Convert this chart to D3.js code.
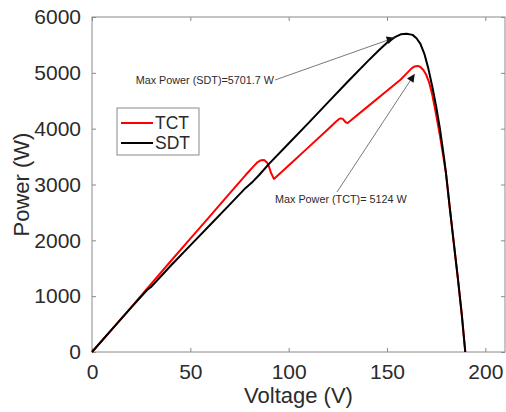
<!DOCTYPE html>
<html>
<head>
<meta charset="utf-8">
<script src="https://cdn.jsdelivr.net/npm/d3@7"></script>
<style>
  body { margin: 0; background: #fff; }
  text { font-family: "Liberation Sans", Arial, sans-serif; }
</style>
</head>
<body>
<svg id="pvChart"></svg>
<script>
// voltage (V), power (W)
var tctCurve = [[0,0],[10,400],[20,805],[28,1135],[40,1625],[50,2030],[60,2435],[70,2840],[78,3165],[82,3320],[84,3395],[86,3435],[87.5,3440],[89,3395],[90,3320],[91,3210],[92.5,3100],
  [100,3340],[110,3665],[120,3990],[124,4125],[125.5,4170],[126.5,4185],[127.5,4175],[129,4115],[130,4100],[140,4390],[150,4680],[157,4880],[160,4990],[162.5,5080],[164,5115],[165.6,5124],
  [167,5105],[168.5,5050],[170,4960],[171.5,4820],[173,4610],[175,4250],[177,3860],[180,3200],[182,2560],[184,1940],[186,1330],[188,680],[189.8,0]];
var sdtCurve = [[0,0],[10,400],[20,800],[28,1110],[30,1165],[40,1545],[50,1910],[60,2275],[70,2640],[78,2935],[82,3060],[85,3170],[90,3370],
  [100,3735],[110,4100],[120,4470],[130,4840],[140,5200],[146,5410],[150,5540],[154,5640],[157,5690],[160,5701.7],[163,5680],[165,5620],
  [167,5520],[169,5340],[171,5080],[173,4760],[175,4400],[177,3980],[179,3480],[180,3200],[182,2560],[184,1940],[186,1330],[188,680],[189.8,0]];

var seriesNames = ["TCT", "SDT"];
var seriesColors = ["#ff0000", "#000000"];
var xTicks = [0, 50, 100, 150, 200];
var yTicks = [0, 1000, 2000, 3000, 4000, 5000, 6000];

var maxSdt = [160, 5701.7], maxTct = [165.6, 5124];
var labelSdt = "Max Power (SDT)=5701.7 W", labelTct = "Max Power (TCT)= 5124 W";

var margin = {top: 17, right: 1, bottom: 60, left: 92},
    width  = 506 - margin.left - margin.right,
    height = 412 - margin.top - margin.bottom;

var x = d3.scaleLinear().domain([0, 210]).range([0, width]);
var y = d3.scaleLinear().domain([0, 6000]).range([height, 0]);

var svg = d3.select("#pvChart")
    .attr("width", 506)
    .attr("height", 412)
  .append("g")
    .attr("transform", "translate(" + margin.left + "," + margin.top + ")");

var axisColor = "#8a8a8a", textColor = "#2b2b2b";

// box + ticks (inward)
svg.append("rect")
  .attr("width", width).attr("height", height)
  .attr("fill", "none").attr("stroke", axisColor).attr("stroke-width", 1);

var fmt = d3.format("d");
var xb = svg.append("g").attr("transform", "translate(0," + height + ")")
  .call(d3.axisBottom(x).tickValues(xTicks).tickFormat(fmt).tickSizeInner(-4).tickSizeOuter(0).tickPadding(12));
var xt = svg.append("g")
  .call(d3.axisTop(x).tickValues(xTicks).tickSizeInner(-4).tickSizeOuter(0).tickFormat(""));
var yl = svg.append("g")
  .call(d3.axisLeft(y).tickValues(yTicks).tickFormat(fmt).tickSizeInner(-4).tickSizeOuter(0).tickPadding(11));
var yr = svg.append("g").attr("transform", "translate(" + width + ",0)")
  .call(d3.axisRight(y).tickValues(yTicks).tickSizeInner(-4).tickSizeOuter(0).tickFormat(""));

[xb, xt, yl, yr].forEach(function(g) {
  g.select(".domain").remove();
  g.selectAll("line").attr("stroke", axisColor);
  g.selectAll("text").attr("fill", textColor).style("font-size", "21px");
});

// curves
var line = d3.line()
  .x(function(d) { return x(d[0]); })
  .y(function(d) { return y(d[1]); });

[tctCurve, sdtCurve].forEach(function(c, i) {
  svg.append("path")
    .datum(c)
    .attr("d", line)
    .attr("fill", "none")
    .attr("stroke", seriesColors[i])
    .attr("stroke-width", 2)
    .attr("stroke-linejoin", "round");
});

// annotations with arrows
svg.append("defs").append("marker")
  .attr("id", "arr")
  .attr("viewBox", "0 0 10 10")
  .attr("refX", 10).attr("refY", 5)
  .attr("markerWidth", 12).attr("markerHeight", 8)
  .attr("markerUnits", "userSpaceOnUse")
  .attr("orient", "auto")
  .append("path").attr("d", "M0,0L10,5L0,10z").attr("fill", "#111");

svg.append("line")
  .attr("x1", 183).attr("y1", 63)
  .attr("x2", x(maxSdt[0]) - 12).attr("y2", y(maxSdt[1]) + 4)
  .attr("stroke", "#555").attr("stroke-width", 0.8)
  .attr("marker-end", "url(#arr)");
svg.append("text")
  .attr("x", 182).attr("y", 67)
  .attr("text-anchor", "end")
  .attr("fill", textColor)
  .style("font-size", "10.8px")
  .text(labelSdt);

svg.append("line")
  .attr("x1", 245).attr("y1", 175)
  .attr("x2", x(maxTct[0]) - 3).attr("y2", y(maxTct[1]) + 8)
  .attr("stroke", "#555").attr("stroke-width", 0.8)
  .attr("marker-end", "url(#arr)");
svg.append("text")
  .attr("x", 183).attr("y", 186)
  .attr("fill", textColor)
  .style("font-size", "10.8px")
  .text(labelTct);

// legend
var lg = svg.append("g").attr("transform", "translate(25,91)");
lg.append("rect")
  .attr("width", 82).attr("height", 47)
  .attr("fill", "#fff").attr("stroke", axisColor).attr("stroke-width", 1);
seriesNames.forEach(function(n, i) {
  lg.append("line")
    .attr("x1", 4).attr("x2", 36)
    .attr("y1", 15 + i * 20).attr("y2", 15 + i * 20)
    .attr("stroke", seriesColors[i]).attr("stroke-width", 2);
  lg.append("text")
    .attr("x", 38).attr("y", 21 + i * 20)
    .attr("fill", textColor)
    .style("font-size", "17.5px")
    .text(n);
});

// axis titles
svg.append("text")
  .attr("x", width / 2).attr("y", height + 51)
  .attr("text-anchor", "middle")
  .attr("fill", textColor)
  .style("font-size", "22px")
  .text("Voltage (V)");

svg.append("text")
  .attr("transform", "rotate(-90)")
  .attr("x", -height / 2).attr("y", -63)
  .attr("text-anchor", "middle")
  .attr("fill", textColor)
  .style("font-size", "22px")
  .text("Power (W)");
</script>
</body>
</html>
